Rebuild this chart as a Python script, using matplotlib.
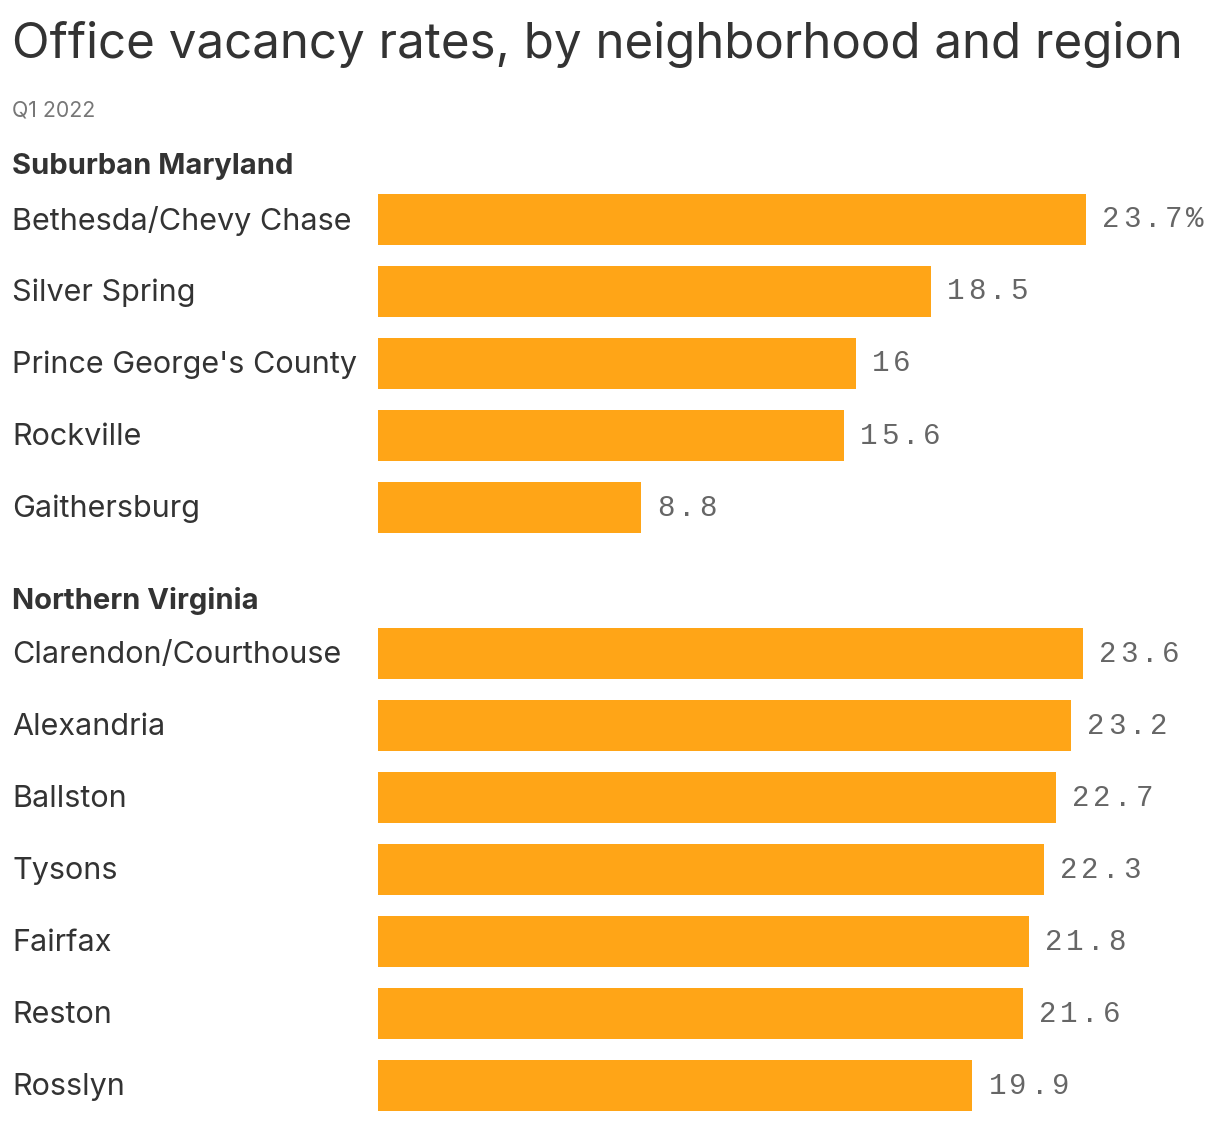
import matplotlib.pyplot as plt
from matplotlib.transforms import blended_transform_factory

# data
md_names = ['Bethesda/Chevy Chase', 'Silver Spring', "Prince George's County", 'Rockville', 'Gaithersburg']
md_vals = [23.7, 18.5, 16, 15.6, 8.8]
va_names = ['Clarendon/Courthouse', 'Alexandria', 'Ballston', 'Tysons', 'Fairfax', 'Reston', 'Rosslyn']
va_vals = [23.6, 23.2, 22.7, 22.3, 21.8, 21.6, 19.9]
md_labels = ['23.7%', '18.5', '16', '15.6', '8.8']
va_labels = ['23.6', '23.2', '22.7', '22.3', '21.8', '21.6', '19.9']

bar_color = '#FFA517'
text_color = '#333333'
plt.rcParams['font.family'] = ['Inter', 'DejaVu Sans']

W, H = 1220, 1122
fig = plt.figure(figsize=(W / 100, H / 100), dpi=100)
ax = fig.add_axes([378 / W, 0, 1 - 378 / W, 1])
ax.set_xlim(0, (W - 378) / 29.87)
ax.set_ylim((H - 219.5) / 72, -219.5 / 72)
ax.axis('off')

trans = blended_transform_factory(fig.transFigure, ax.transData)
x_lab = 12 / W

groups = [('Suburban Maryland', md_names, md_vals, md_labels, 0),
          ('Northern Virginia', va_names, va_vals, va_labels, 6.03)]

for header, names, vals, labels, start in groups:
    ys = [start + i for i in range(len(names))]
    ax.barh(ys, vals, height=0.71, color=bar_color)
    ax.text(x_lab, start - 0.73, header, transform=trans, fontsize=21,
            fontweight='bold', color=text_color, va='center', ha='left')
    for y, name, v, lab in zip(ys, names, vals, labels):
        ax.text(x_lab, y + 0.02, name, transform=trans, fontsize=22,
                color=text_color, va='center', ha='left')
        # monospace value labels with wide letter spacing
        for k, ch in enumerate(lab):
            ax.annotate(ch, xy=(v, y), xytext=(11.5 + k * 15.2, 0),
                        textcoords='offset points', fontsize=21,
                        family='Liberation Mono', color='#666666',
                        va='center', ha='left')

fig.text(x_lab, 1 - 44 / H, 'Office vacancy rates, by neighborhood and region',
         fontsize=35.5, color=text_color, va='center', ha='left')
fig.text(x_lab, 1 - 111 / H, 'Q1 2022', fontsize=15.3, color='#777777',
         va='center', ha='left')

fig.savefig('out.png', dpi=100)
